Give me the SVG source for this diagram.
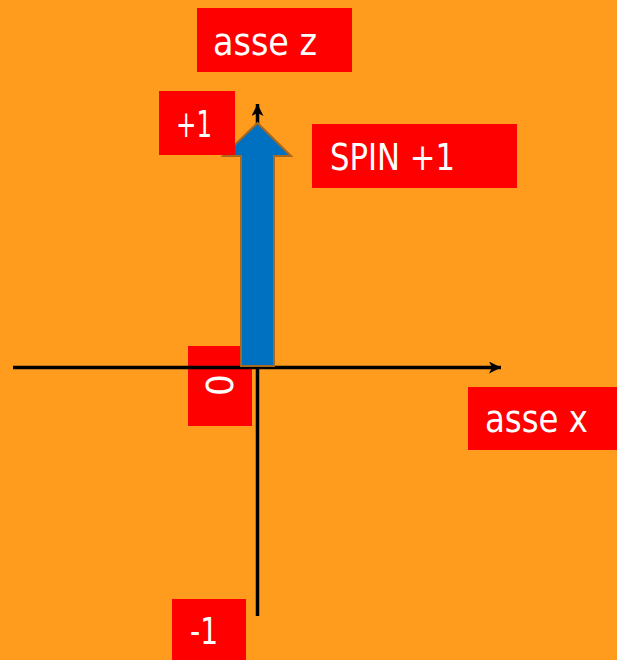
<svg xmlns="http://www.w3.org/2000/svg" width="617" height="660" viewBox="0 0 617 660">
<defs>
<style>
.box{fill:#FF0000;}
.lbl{fill:#FFFFFF;font-family:"DejaVu Sans Condensed","DejaVu Sans",sans-serif;font-size:38px;}
.axis{stroke:#000000;stroke-width:3.5;fill:none;}
</style>
<marker id="ah" markerWidth="12" markerHeight="12" refX="12" refY="6" orient="auto" markerUnits="userSpaceOnUse" viewBox="0 0 12 12">
<path d="M0,0 L12,6 L0,12 L3,6 Z" fill="#000000"/>
</marker>
</defs>
<rect x="0" y="0" width="617" height="660" fill="#FF9C1E"/>
<g id="label-zero">
<rect class="box" x="188" y="346" width="64" height="80"/>
<text class="lbl" transform="translate(219,385) rotate(90)" x="0" y="13" text-anchor="middle">0</text>
</g>
<g id="connectors">
<line class="axis" x1="13" y1="367.5" x2="501" y2="367.5" marker-end="url(#ah)"/>
<line class="axis" x1="257.5" y1="616" x2="257.5" y2="104" marker-end="url(#ah)"/>
</g>
<g id="spin-arrow">
<path d="M241,366 L241,156 L223,156 L257.5,123 L291,156 L274,156 L274,366 Z" fill="#0070C0" stroke="#A8681E" stroke-width="2"/>
</g>
<g id="label-asse-z">
<rect class="box" x="197" y="8" width="155" height="64"/>
<text class="lbl" x="213" y="55" textLength="104" lengthAdjust="spacingAndGlyphs">asse z</text>
</g>
<g id="label-plus1">
<rect class="box" x="159" y="91" width="76" height="64"/>
<text class="lbl" x="176" y="137" textLength="36" lengthAdjust="spacingAndGlyphs">+1</text>
</g>
<g id="label-spin">
<rect class="box" x="312" y="124" width="205" height="64"/>
<text class="lbl" x="330" y="170" textLength="125" lengthAdjust="spacingAndGlyphs">SPIN +1</text>
</g>
<g id="label-asse-x">
<rect class="box" x="468" y="387" width="149" height="63"/>
<text class="lbl" x="485" y="432" textLength="103" lengthAdjust="spacingAndGlyphs">asse x</text>
</g>
<g id="label-minus1">
<rect class="box" x="172" y="599" width="74" height="61"/>
<text class="lbl" x="190" y="644" textLength="28" lengthAdjust="spacingAndGlyphs">-1</text>
</g>
</svg>
